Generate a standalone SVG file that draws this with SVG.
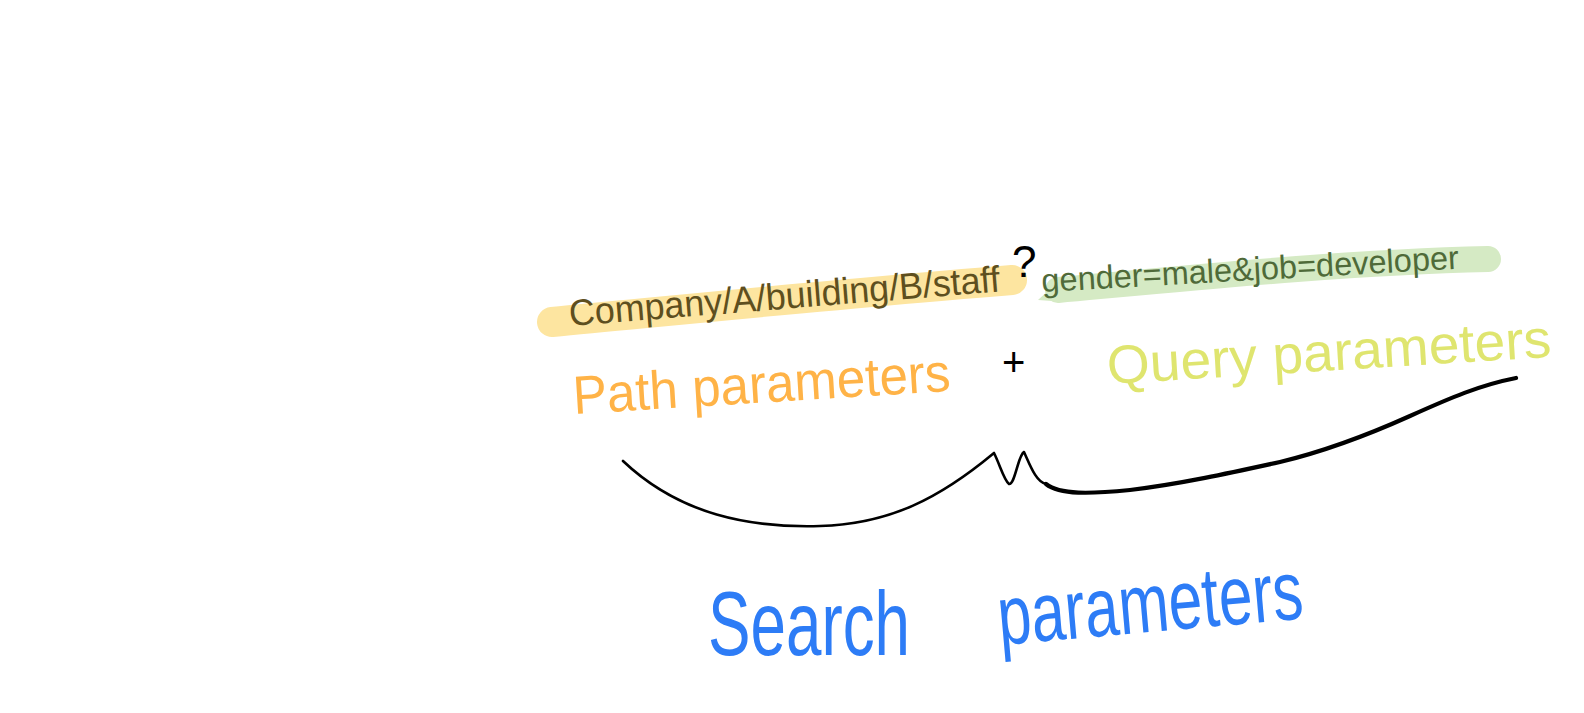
<svg xmlns="http://www.w3.org/2000/svg" width="1584" height="713" viewBox="0 0 1584 713">
<style>
.hand{font-family:"Liberation Sans",Arial,sans-serif;}
.hl{fill:none;stroke-linecap:round;stroke-linejoin:round;}
.brace{fill:none;stroke:#000;stroke-linecap:round;stroke-linejoin:round;}
</style>
<rect width="1584" height="713" fill="#fff"/>
<g id="path-url">
<path class="hl" d="M552 322 C700 308 860 292 1012 280" stroke="#fde5a0" stroke-width="30"/>
<text class="hand" x="570" y="326" font-size="37" fill="#5e4f1e" textLength="432" lengthAdjust="spacingAndGlyphs" transform="rotate(-4.6 570 326)">Company/A/building/B/staff</text>
</g>
<g id="question-mark">
<text class="hand" x="1012" y="277" font-size="44" fill="#000">?</text>
</g>
<g id="query-url">
<path class="hl" d="M1058 290 C1200 277 1350 262 1488 259" stroke="#d5eac4" stroke-width="26"/>
<path d="M1062 278 L1038 300 L1066 302 Z" fill="#d5eac4"/>
<text class="hand" x="1042" y="292" font-size="33" fill="#4f6a39" textLength="418" lengthAdjust="spacingAndGlyphs" transform="rotate(-3.2 1042 292)">gender=male&amp;job=developer</text>
</g>
<g id="path-parameters">
<text class="hand" x="574" y="414" font-size="54" fill="#ffb347" textLength="378" lengthAdjust="spacingAndGlyphs" transform="rotate(-3.5 574 414)">Path parameters</text>
</g>
<g id="plus">
<text class="hand" x="1002" y="376" font-size="40" fill="#000">+</text>
</g>
<g id="query-parameters">
<text class="hand" x="1108" y="384" font-size="54" fill="#dfe56f" textLength="445" lengthAdjust="spacingAndGlyphs" transform="rotate(-3.5 1108 384)">Query parameters</text>
</g>
<g id="connectors">
<path class="brace" stroke-width="2.6" d="M623 461 C680 515 750 528 820 526 C890 524 940 498 994 453 C1000 465 1004 480 1009 484 C1015 485 1018 455 1024 452 C1030 465 1036 482 1046 484"/>
<path class="brace" stroke-width="4.2" d="M1046 484 C1060 495 1090 494 1130 490 C1180 484 1230 473 1280 462 C1330 450 1370 434 1410 416 C1450 398 1480 385 1516 378"/>
</g>
<g id="search-parameters">
<text class="hand" x="708" y="655" font-size="90" fill="#2d7cf6" textLength="202" lengthAdjust="spacingAndGlyphs">Search</text>
<text class="hand" x="1000" y="645" font-size="84" fill="#2d7cf6" textLength="306" lengthAdjust="spacingAndGlyphs" transform="rotate(-5 1000 645)">parameters</text>
</g>
</svg>
